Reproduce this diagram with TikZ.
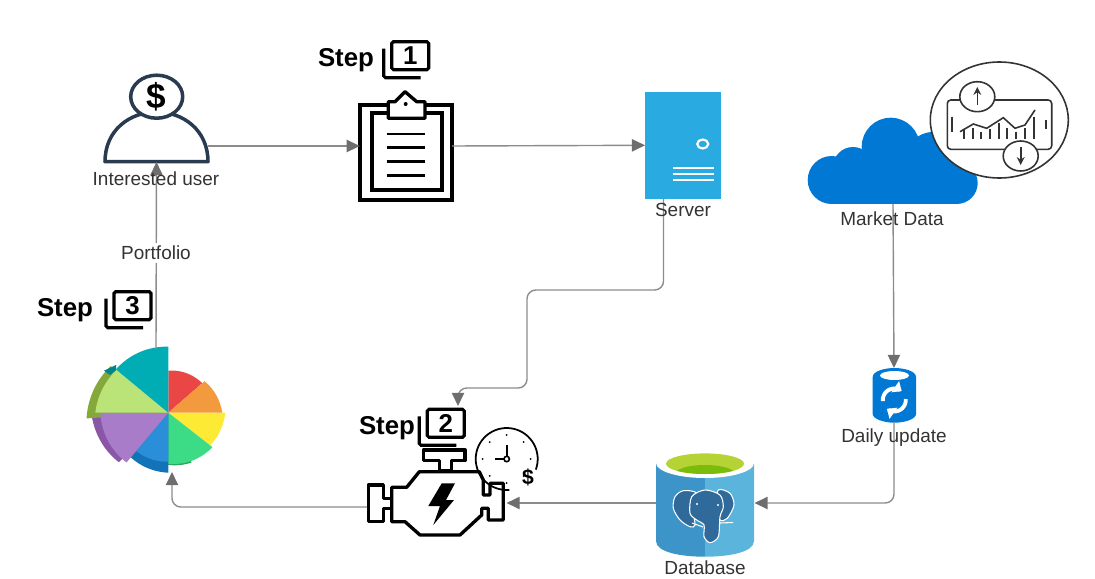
\documentclass[tikz,border=0pt]{standalone}
\usepackage{fontspec}
\setmainfont{Liberation Sans}
\usetikzlibrary{arrows.meta}
\definecolor{usernavy}{HTML}{2A3B4F}
\definecolor{labelgray}{HTML}{333333}
\definecolor{linkgray}{HTML}{8C8C8C}
\definecolor{tipgray}{HTML}{6E6E6E}
\definecolor{serverblue}{HTML}{29ABE2}
\definecolor{azureblue}{HTML}{0078D4}
\definecolor{dbleft}{HTML}{3D94C8}
\definecolor{dbright}{HTML}{5AB4DC}
\definecolor{dbgreen}{HTML}{B5D334}
\definecolor{dbgreendark}{HTML}{7DBB0A}
\definecolor{elephant}{HTML}{2F6A9B}
\definecolor{piered}{HTML}{EB4646}
\definecolor{pieorange}{HTML}{F49A3E}
\definecolor{pieyellow}{HTML}{FDEA35}
\definecolor{piegreen}{HTML}{3BDC85}
\definecolor{pieblue}{HTML}{2A8FD8}
\definecolor{piepurple}{HTML}{A97CC9}
\definecolor{pielime}{HTML}{BBE478}
\definecolor{pieteal}{HTML}{00ADB5}
\definecolor{rimgreen}{HTML}{2CA85F}
\definecolor{rimblue}{HTML}{1373B8}
\definecolor{rimpurple}{HTML}{8A57A8}
\definecolor{rimlime}{HTML}{84A83A}
\definecolor{rimteal}{HTML}{00848C}

\begin{document}
\begin{tikzpicture}[
  x=0.02cm, y=-0.02cm,
  anchorbox/.style={inner sep=0pt, outer sep=0pt, minimum width=#1},
  lbl/.style={font=\fontsize{10.8}{12}\selectfont, text=labelgray, inner sep=0pt},
  steplbl/.style={font=\fontsize{14.7}{16}\selectfont\bfseries, inner sep=0pt},
  link/.style={draw=linkgray, line width=0.8pt, -{Triangle[length=7.5pt,width=7pt,color=tipgray]}, rounded corners=5pt},
  blackline/.style={draw=black, line width=1.9pt, line join=round}
]

\useasboundingbox (0,0) rectangle (1095,578);

% anchors for the connectors
\node[anchorbox=2.06cm, minimum height=0.64cm] (user) at (156.5,146) {};
\node[anchorbox=1.84cm, minimum height=1.6cm] (clipboard) at (405.8,146) {};
\node[anchorbox=1.51cm, minimum height=2.15cm] (server) at (682.8,145.3) {};
\node[anchorbox=3.4cm, minimum height=1.36cm] (cloud) at (893,170) {};
\node[anchorbox=0.86cm, minimum height=1.08cm] (daily) at (894,395) {};
\node[anchorbox=1.98cm, minimum height=1.9cm] (database) at (705,503) {};
\node[anchorbox=2.79cm, minimum height=1.2cm] (engine) at (436.8,507) {};
\coordinate (serverout) at (663.5,199);
\coordinate (enginein) at (458,406);
\coordinate (piein) at (172,472);
\coordinate (pieout) at (156,349);

% ==================== user ====================
\draw[usernavy, line width=2pt, line join=round] (105,161.7) .. controls (105,130) and (130,112) .. (156.5,112)
  .. controls (183,112) and (208,130) .. (208,161.7) -- cycle;
\draw[usernavy, line width=2pt, fill=white] (156.7,96.7) ellipse [x radius=26, y radius=21.5];
\node[font=\fontsize{20}{21}\selectfont\bfseries, text=black, inner sep=0pt] (userdollar) at (156.7,96.7) {\$};

% ==================== clipboard ====================
\draw[black, line width=2.1pt] (360,105) rectangle (451.7,200);
\draw[black, line width=2.1pt] (371.7,113) rectangle (441.7,190);
\draw[blackline, fill=white] (388.3,118.3) -- (388.3,101.7) -- (395,101.7) -- (405,91.7) -- (416.7,101.7) -- (425,101.7) -- (425,118.3) -- cycle;
\fill[black] (405.7,104) circle [radius=2];
\foreach \liney in {134,147.3,161.7,175.3}
  \draw[black, line width=1.5pt] (386.7,\liney) -- (425,\liney);

% ==================== server ====================
\fill[serverblue] (645,91.7) rectangle (720.7,199);
\draw[white, line width=1.2pt] (702.7,144) ellipse [x radius=5.5, y radius=4.5];
\foreach \liney in {167.7,173.7,180.3}
  \draw[white, line width=1.1pt] (673,\liney) -- (714,\liney);

% ==================== market data ====================
\fill[azureblue] (831.7,180) circle [radius=24];
\fill[azureblue] (853,167) circle [radius=20];
\fill[azureblue] (890.7,146.7) circle [radius=29];
\fill[azureblue] (933,160) circle [radius=28];
\fill[azureblue] (956.7,183) circle [radius=21];
\fill[azureblue] (832,165) rectangle (957,204);

\draw[labelgray, line width=0.9pt, fill=white] (999.3,120) ellipse [x radius=69, y radius=58];
\draw[labelgray, line width=0.9pt, rounded corners=2pt] (947.3,100) rectangle (1051.7,149.3);
\draw[labelgray, line width=0.9pt, fill=white] (977.3,96.7) ellipse [x radius=17.5, y radius=15];
\draw[labelgray, line width=0.9pt, fill=white] (1020.7,156) ellipse [x radius=17.5, y radius=15];
\draw[labelgray, line width=0.9pt, -{Stealth[length=4.5pt,width=4.5pt]}] (977.3,105) -- (977.3,87);
\draw[labelgray, line width=0.9pt, -{Stealth[length=4.5pt,width=4.5pt]}] (1020.7,147) -- (1020.7,165);
\draw[labelgray, line width=0.9pt] (960,131.7) -- (973.3,124) -- (986.7,128.3) -- (1003.3,117.7) -- (1015,128.3) -- (1025,125) -- (1035,110);
\foreach \barx/\bary in {964/130,972.7/128.3,981.3/131.7,990/129.3,998.7/123.3,1007.3/128.3,1016/131.7,1025/128.3,1033.7/116.7}
  \draw[labelgray, line width=1pt] (\barx,\bary) -- (\barx,139.3);
\draw[labelgray, line width=1pt] (951.7,116.7) -- (951.7,131.7);
\draw[labelgray, line width=1pt] (1046,120) -- (1046,129.3);

% ==================== daily update ====================
\fill[azureblue] (872.7,377) .. controls (872.7,371) and (885,368) .. (894.3,368) .. controls (904,368) and (916,371) .. (916,377)
  -- (916,414) .. controls (916,419) and (905,422.7) .. (894.3,422.7) .. controls (884,422.7) and (872.7,419) .. (872.7,414) -- cycle;
\fill[white] (894.5,375.5) ellipse [x radius=14.5, y radius=4.5];
\draw[white, line width=2.2pt, -{Triangle[length=4.5pt,width=7.5pt]}] plot[domain=175:310,samples=14] ({894.3+11.5*cos(\x)},{400+11.5*sin(\x)});
\draw[white, line width=2.2pt, -{Triangle[length=4.5pt,width=7.5pt]}] plot[domain=355:490,samples=14] ({894.3+11.5*cos(\x)},{400+11.5*sin(\x)});

% ==================== database ====================
\fill[dbleft] (656,463) -- (705,463) -- (705,556.7) .. controls (680,556.7) and (656,552) .. (656,541) -- cycle;
\fill[dbright] (705,463) -- (754,463) -- (754,541) .. controls (754,552) and (730,556.7) .. (705,556.7) -- cycle;
\fill[white] (705,463) ellipse [x radius=49, y radius=15];
\fill[dbgreen] (705,463.7) ellipse [x radius=39, y radius=10.3];
\begin{scope}
  \clip (705,463.7) ellipse [x radius=39, y radius=10.3];
  \fill[dbgreendark] (705,474) ellipse [x radius=30, y radius=9];
\end{scope}
\draw[white, line width=0.6pt, fill=elephant] plot[smooth cycle] coordinates {(683.3,490.7) (675,496.7) (673.3,508.3) (680,520) (690,526.7) (695,525) (693.3,510) (696.7,493.3)};
\draw[white, line width=0.6pt, fill=elephant] plot[smooth cycle] coordinates {(718.3,490) (730,493.3) (734,505) (727.3,518.3) (720,520) (716,506.7)};
\draw[white, line width=0.6pt, fill=elephant] plot[smooth cycle] coordinates {(705,490) (691.7,496.7) (690,513.3) (696.7,520) (704,525) (704,536.7) (710,542.7) (718.3,536.7) (720,516.7) (723.3,506.7) (720,495)};
\draw[white, line width=0.6pt] (720,523) -- (733,522.5);
\draw[white, line width=0.6pt] (692,523) -- (703,527);
\fill[white] (697,504) circle [radius=1.2];
\fill[white] (718,505) circle [radius=1.2];

% ==================== engine ====================
\draw[blackline, fill=white] (423.3,450) -- (465,450) -- (465,460.7) -- (451.7,460.7) -- (451.7,470.7) -- (439.3,470.7) -- (439.3,460.7) -- (423.3,460.7) -- cycle;
\draw[blackline, fill=white] (391.7,487.3) -- (406.7,487.3) -- (419.3,471.7) -- (479.3,471.7) -- (483.3,480) -- (483.3,495) -- (490,495) -- (490,483.3) -- (503.3,483.3) -- (503.3,520) -- (488.3,520) -- (488.3,508.3) -- (481.7,508.3) -- (481.7,515) -- (460,535) -- (420,535) -- (405,521.7) -- (391.7,521.7) -- cycle;
\draw[blackline, fill=white] (368.3,485) -- (383.3,485) -- (383.3,498.3) -- (391.7,498.3) -- (391.7,508.3) -- (383.3,508.3) -- (383.3,521.7) -- (368.3,521.7) -- cycle;
\fill[black] (441.7,483.3) -- (455,483.3) -- (446,500) -- (454,500) -- (433.3,525) -- (440,506) -- (428.3,506) -- cycle;

% clock
\draw[black, line width=1pt] plot[domain=85:380,samples=50] ({506.7+31*cos(\x)},{459+31*sin(\x)});
\foreach \ang in {0,45,135,180,225,270,315,90}
  \fill[black] ({506.7+24*cos(\ang)},{459+24*sin(\ang)}) circle [radius=1];
\draw[black, line width=1pt] (506.7,445) -- (506.7,456.5);
\draw[black, line width=1pt] (495,459) -- (504,459);
\draw[black, line width=0.9pt] (506.7,459) circle [radius=2.7];
\node[font=\fontsize{12}{13}\selectfont\bfseries, inner sep=0pt] (clockdollar) at (528,477) {\$};

% ==================== portfolio pie ====================
\begin{scope}[shift={(168.3,412.7)}]
  % darker rims
  \foreach \a/\b/\ra/\rb/\c in {
      65/92/55/52/rimgreen,
      90/138/60/58/rimblue,
      135/180/70/77/rimpurple,
      176/219/82/74/rimlime}
    \fill[\c] (0,0) -- plot[domain=\a:\b,samples=12] (\x:{\ra+(\rb-\ra)*(\x-\a)/(\b-\a)}) -- cycle;
  % slices
  \foreach \a/\b/\ra/\rb/\c in {
      0/38/57/53/pieyellow,
      38/90/56/51/piegreen,
      90/130/49/50/pieblue,
      130/180/65/68/piepurple,
      180/219.6/73/67/pielime,
      270/319/42/45/piered,
      319/360/48/54/pieorange}
    \fill[\c] (0,0) -- plot[domain=\a:\b,samples=12] (\x:{\ra+(\rb-\ra)*(\x-\a)/(\b-\a)}) -- cycle;
  \fill[rimteal] (-64.3,-42) -- (-52.3,-47.7) -- (-52.3,-42.7) -- (-58.3,-37.7) -- cycle;
  \fill[pieteal] (0,0) -- plot[domain=219.6:270,samples=12] (\x:{68+(66-68)*(\x-219.6)/50.4}) -- cycle;
\end{scope}

% ==================== step markers ====================
\foreach \n/\a/\b/\tx/\ty in {1/391.7/41.7/346/60, 2/427.3/409.3/387/428, 3/114/291.7/65/310} {
  \draw[black, line width=1.8pt, rounded corners=1pt] (\a,\b) rectangle ({\a+37},{\b+28});
  \draw[black, line width=1.8pt, rounded corners=1pt] ({\a-8},{\b+7}) -- ({\a-8},{\b+36}) -- ({\a+29},{\b+36});
  \node[steplbl] (stepdigit\n) at ({\a+18.5},{\b+14}) {\n};
  \node[steplbl] (steptext\n) at (\tx,\ty) {Step};
}

% ==================== connectors ====================
\draw[link] (user.east) -- (clipboard.west);
\draw[link] (clipboard.east) -- (server.west);
\draw[link] (serverout) -- (663.5,290) -- (527,290) -- (527,388) -- (458,388) -- (enginein);
\draw[link] (cloud.south) -- (daily.north);
\draw[link] (daily.south) |- (database.east);
\draw[link] (database.west) -- (database.west -| engine.east);
\draw[link] (engine.west) -| (piein);
\draw[link] (pieout) -- (user.south);

% ==================== labels ====================
\node[lbl] (userlabel) at (156,179) {Interested user};
\node[lbl] (serverlabel) at (683,210) {Server};
\node[lbl] (marketlabel) at (892,219) {Market Data};
\node[lbl] (dailylabel) at (894,437.7) {Daily update};
\node[lbl] (databaselabel) at (705,567.5) {Database};
\node[lbl, fill=white, inner sep=1.5pt] (portfoliolabel) at (156,253) {Portfolio};

\end{tikzpicture}
\end{document}
